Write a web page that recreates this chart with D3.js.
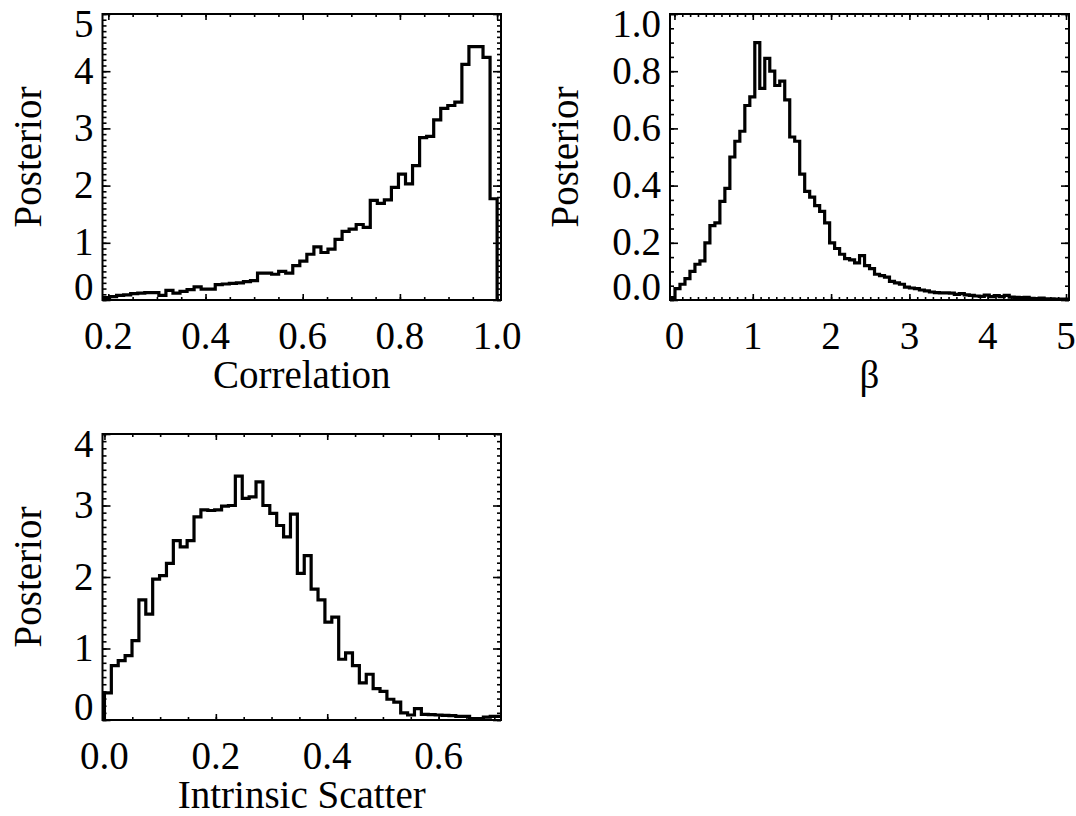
<!DOCTYPE html>
<html>
<head>
<meta charset="utf-8">
<script src="https://cdn.jsdelivr.net/npm/d3@7"></script>
<style>
  body { margin: 0; background: #fff; }
  text { font-family: "Liberation Serif", "Times New Roman", serif; font-size: 39px; fill: #000; }
</style>
</head>
<body>
<svg id="chart" width="1076" height="816"></svg>
<script>
// Correlation posterior histogram (bins of constant width, ending at 1.0)
var corrStart = 0.188, corrBin = 0.0145;
var corrValues = [0.04, 0.06, 0.08, 0.09, 0.11, 0.12, 0.13, 0.13, 0.08, 0.17,
  0.12, 0.15, 0.18, 0.23, 0.19, 0.19, 0.27, 0.28, 0.29, 0.30,
  0.32, 0.34, 0.47, 0.47, 0.45, 0.50, 0.47, 0.60, 0.68, 0.80,
  0.93, 0.83, 0.89, 1.06, 1.20, 1.24, 1.32, 1.27, 1.74, 1.69,
  1.75, 1.97, 2.20, 2.03, 2.35, 2.84, 2.86, 3.15, 3.35, 3.40,
  3.46, 4.12, 4.43, 4.43, 4.24, 1.77];
var corrXTicks = [0.2, 0.4, 0.6, 0.8, 1.0];
var corrXLabels = ["0.2", "0.4", "0.6", "0.8", "1.0"];
var corrYTicks = [0, 1, 2, 3, 4, 5];
var corrYLabels = ["0", "1", "2", "3", "4", "5"];

// beta posterior histogram
var betaStart = -0.057, betaBin = 0.0637;
var betaValues = [0.008, 0.04, 0.055, 0.075, 0.10, 0.125, 0.137, 0.20, 0.26, 0.27,
  0.345, 0.39, 0.50, 0.555, 0.59, 0.68, 0.71, 0.90, 0.74, 0.845,
  0.80, 0.75, 0.765, 0.70, 0.57, 0.555, 0.44, 0.38, 0.36, 0.33,
  0.31, 0.27, 0.20, 0.18, 0.16, 0.145, 0.14, 0.13, 0.155, 0.12,
  0.11, 0.09, 0.085, 0.08, 0.065, 0.06, 0.055, 0.045, 0.042, 0.04,
  0.035, 0.032, 0.028, 0.026, 0.025, 0.025, 0.024, 0.02, 0.022, 0.018,
  0.016, 0.014, 0.013, 0.017, 0.012, 0.015, 0.012, 0.016, 0.01, 0.009,
  0.008, 0.009, 0.006, 0.005, 0.007, 0.004, 0.004, 0.003, 0.003, 0.002];
var betaXTicks = [0, 1, 2, 3, 4, 5];
var betaXLabels = ["0", "1", "2", "3", "4", "5"];
var betaYTicks = [0, 0.2, 0.4, 0.6, 0.8, 1.0];
var betaYLabels = ["0.0", "0.2", "0.4", "0.6", "0.8", "1.0"];

// intrinsic scatter posterior histogram
var scatStart = 0.0, scatBin = 0.01237;
var scatValues = [0.38, 0.76, 0.83, 0.90, 1.11, 1.68, 1.48, 1.97, 2.02, 2.19,
  2.51, 2.42, 2.51, 2.84, 2.94, 2.93, 2.94, 2.99, 3.00, 3.41,
  3.10, 3.12, 3.33, 3.00, 2.89, 2.72, 2.56, 2.88, 2.05, 2.30,
  1.83, 1.68, 1.37, 1.44, 0.85, 0.94, 0.76, 0.52, 0.64, 0.44,
  0.40, 0.29, 0.25, 0.10, 0.07, 0.16, 0.08, 0.075, 0.07, 0.065,
  0.06, 0.05, 0.05, 0.02, 0.02, 0.04, 0.05, 0.05];
var scatXTicks = [0.0, 0.2, 0.4, 0.6];
var scatXLabels = ["0.0", "0.2", "0.4", "0.6"];
var scatYTicks = [0, 1, 2, 3, 4];
var scatYLabels = ["0", "1", "2", "3", "4"];

var svg = d3.select("#chart");

function minorTicks(domain, step) {
  var out = [];
  var i0 = Math.ceil(domain[0] / step - 1e-6), i1 = Math.floor(domain[1] / step + 1e-6);
  for (var i = i0; i <= i1; i++) out.push(+(i * step).toFixed(6));
  return out;
}

function drawPanel(p, id) {
  var g = svg.append("g");
  var x = d3.scaleLinear().domain(p.xDomain).range([p.left, p.right]);
  var y = d3.scaleLinear().domain(p.yDomain).range([p.bottom, p.top]);

  g.append("clipPath").attr("id", "clip" + id)
    .append("rect")
      .attr("x", p.left).attr("y", p.top - 2)
      .attr("width", p.right - p.left).attr("height", p.bottom - p.top + 2);

  // histogram as a step line
  var pts = [[p.start, 0]];
  p.values.forEach(function(v, i) {
    pts.push([p.start + i * p.bin, v]);
    pts.push([p.start + (i + 1) * p.bin, v]);
  });
  pts.push([p.start + p.values.length * p.bin, 0]);
  var line = d3.line().x(function(d) { return x(d[0]); }).y(function(d) { return y(d[1]); });
  g.append("path")
    .attr("d", line(pts))
    .attr("fill", "none")
    .attr("stroke", "#000")
    .attr("stroke-width", 3.2)
    .attr("stroke-linejoin", "miter")
    .attr("clip-path", "url(#clip" + id + ")");

  // ticks on all four sides, pointing inward
  var xMinor = minorTicks(p.xDomain, p.xMinor);
  var yMinor = minorTicks(p.yDomain, p.yMinor);
  var axes = [
    [d3.axisBottom(x).tickValues(p.xTicks).tickSize(-6), "translate(0," + p.bottom + ")"],
    [d3.axisBottom(x).tickValues(xMinor).tickSize(-3), "translate(0," + p.bottom + ")"],
    [d3.axisTop(x).tickValues(p.xTicks).tickSize(-6), "translate(0," + p.top + ")"],
    [d3.axisTop(x).tickValues(xMinor).tickSize(-3), "translate(0," + p.top + ")"],
    [d3.axisLeft(y).tickValues(p.yTicks).tickSize(-8), "translate(" + p.left + ",0)"],
    [d3.axisLeft(y).tickValues(yMinor).tickSize(-4), "translate(" + p.left + ",0)"],
    [d3.axisRight(y).tickValues(p.yTicks).tickSize(-8), "translate(" + p.right + ",0)"],
    [d3.axisRight(y).tickValues(yMinor).tickSize(-4), "translate(" + p.right + ",0)"]
  ];
  axes.forEach(function(a) {
    var ax = g.append("g").attr("transform", a[1]).call(a[0].tickFormat(""));
    ax.select(".domain").remove();
    ax.selectAll("line").attr("stroke", "#000").attr("stroke-width", 1.6);
  });

  // frame
  g.append("rect")
    .attr("x", p.left).attr("y", p.top)
    .attr("width", p.right - p.left).attr("height", p.bottom - p.top)
    .attr("fill", "none").attr("stroke", "#000").attr("stroke-width", 2);

  // tick labels
  g.selectAll(".xl").data(p.xTicks).enter().append("text")
    .attr("x", function(d) { return x(d); })
    .attr("y", p.bottom + 49)
    .attr("text-anchor", "middle")
    .text(function(d, i) { return p.xLabels[i]; });

  g.selectAll(".yl").data(p.yTicks).enter().append("text")
    .attr("x", p.left - 9)
    .attr("y", function(d) {
      return Math.max(p.top + 23, Math.min(p.bottom, y(d) + 12.5));
    })
    .attr("text-anchor", "end")
    .text(function(d, i) { return p.yLabels[i]; });

  // axis titles
  g.append("text")
    .attr("x", (p.left + p.right) / 2)
    .attr("y", p.bottom + 88)
    .attr("text-anchor", "middle")
    .text(p.xTitle);

  var cy = (p.top + p.bottom) / 2;
  g.append("text")
    .attr("transform", "translate(" + (p.left - p.yTitleGap) + "," + cy + ") rotate(-90)")
    .attr("text-anchor", "middle")
    .text("Posterior");
}

drawPanel({
  left: 102.5, right: 501, top: 14, bottom: 300,
  xDomain: [0.188, 1.008], yDomain: [0, 5],
  xTicks: corrXTicks, xLabels: corrXLabels, xMinor: 0.05,
  yTicks: corrYTicks, yLabels: corrYLabels, yMinor: 0.1,
  start: corrStart, bin: corrBin, values: corrValues,
  xTitle: "Correlation", yTitleGap: 61.5
}, 1);

drawPanel({
  left: 670, right: 1069, top: 14, bottom: 300,
  xDomain: [-0.057, 5.038], yDomain: [0, 1],
  xTicks: betaXTicks, xLabels: betaXLabels, xMinor: 0.1,
  yTicks: betaYTicks, yLabels: betaYLabels, yMinor: 0.05,
  start: betaStart, bin: betaBin, values: betaValues,
  xTitle: "β", yTitleGap: 92
}, 2);

drawPanel({
  left: 102.5, right: 501, top: 434, bottom: 720,
  xDomain: [-0.0035, 0.712], yDomain: [0, 4],
  xTicks: scatXTicks, xLabels: scatXLabels, xMinor: 0.05,
  yTicks: scatYTicks, yLabels: scatYLabels, yMinor: 0.1,
  start: scatStart, bin: scatBin, values: scatValues,
  xTitle: "Intrinsic Scatter", yTitleGap: 62
}, 3);
</script>
</body>
</html>
